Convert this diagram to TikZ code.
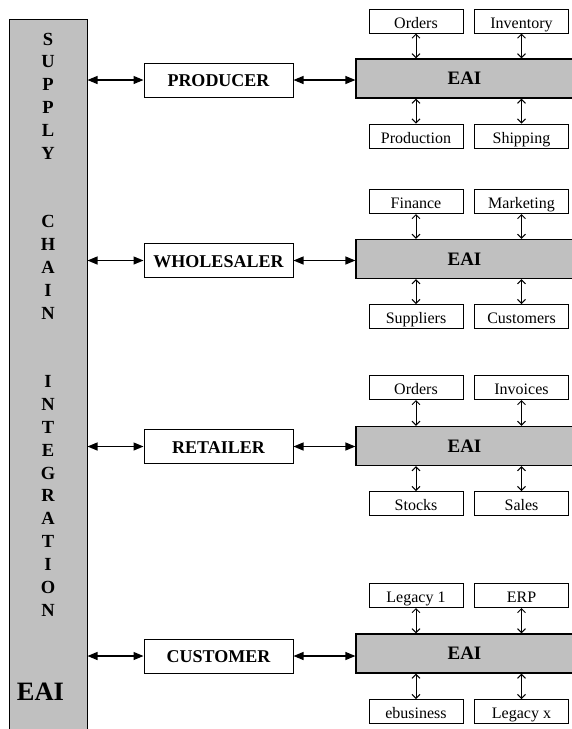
\documentclass[tikz,border=0pt]{standalone}
\usepackage{fontspec}
\setmainfont{Liberation Serif}
\usetikzlibrary{arrows.meta}
\definecolor{eaigray}{RGB}{192,192,192}

\begin{document}
\begin{tikzpicture}
            [
            x=1pt,y=-1pt,
            chain/.style={draw,line width=1pt,fill=eaigray,inner sep=0pt,
                minimum width=78pt,minimum height=720pt},
            letter/.style={inner sep=0pt,font={\fontsize{18.5}{20}\selectfont\bfseries}},
            entity/.style={draw,line width=1pt,inner sep=0pt,minimum width=149pt,
                minimum height=34pt,text height=13pt,text depth=0pt,
                font={\fontsize{18}{20}\selectfont\bfseries}},
            eai/.style={draw,line width=1.2pt,fill=eaigray,inner sep=0pt,
                minimum width=217pt,minimum height=39pt,
                font={\fontsize{19}{21}\selectfont\bfseries}},
            system/.style={draw,line width=1pt,inner sep=0pt,minimum width=94pt,
                minimum height=24pt,text height=14pt,text depth=0pt,
                font={\fontsize{16}{18}\selectfont}},
            link/.style={line width=1.2pt,
                {Triangle[length=10pt,width=8pt]}-{Triangle[length=10pt,width=8pt]}},
            sublink/.style={line width=1pt,
                {Straight Barb[length=4pt,width=8pt]}-{Straight Barb[length=4pt,width=8pt]}},
            ]
            \useasboundingbox (0,0) rectangle (572,729);
            \clip (0,0) rectangle (572,729);

            % Supply chain bar
            \node[chain] (bar) at (48,379) {};
            \foreach \c/\k in {S/0,U/1,P/2,P/3,L/4,Y/5,C/8,H/9,A/10,I/11,N/12,
                I/15,N/16,T/17,E/18,G/19,R/20,A/21,T/22,I/23,O/24,N/25}
                \node[letter] (l\k) at (48,39+22.84*\k) {\c};
            \node[inner sep=0pt,font={\fontsize{26.5}{28}\selectfont\bfseries}] (bareai) at (40.5,692) {EAI};

            % Producer
            \node[entity] (prod) at (218.5,80) {PRODUCER};
            \node[eai] (eai1) at (464.5,78.5) {EAI};
            \node[system] (ord1) at (416,21) {Orders};
            \node[system] (inv1) at (521.5,21) {Inventory};
            \node[system] (prd1) at (416,136) {Production};
            \node[system] (shp1) at (521.5,136) {Shipping};
            \draw[link] (bar.east |- prod.west) -- (prod.west);
            \draw[link] (prod.east) -- (prod.east -| eai1.west);
            \draw[sublink] (ord1.south) -- (ord1.south |- eai1.north);
            \draw[sublink] (inv1.south) -- (inv1.south |- eai1.north);
            \draw[sublink] (prd1.north) -- (prd1.north |- eai1.south);
            \draw[sublink] (shp1.north) -- (shp1.north |- eai1.south);

            % Wholesaler
            \node[entity] (whol) at (218.5,260.5) {WHOLESALER};
            \node[eai] (eai2) at (464.5,259) {EAI};
            \node[system] (fin2) at (416,201.5) {Finance};
            \node[system] (mkt2) at (521.5,201.5) {Marketing};
            \node[system] (sup2) at (416,316.5) {Suppliers};
            \node[system] (cus2) at (521.5,316.5) {Customers};
            \draw[link] (bar.east |- whol.west) -- (whol.west);
            \draw[link] (whol.east) -- (whol.east -| eai2.west);
            \draw[sublink] (fin2.south) -- (fin2.south |- eai2.north);
            \draw[sublink] (mkt2.south) -- (mkt2.south |- eai2.north);
            \draw[sublink] (sup2.north) -- (sup2.north |- eai2.south);
            \draw[sublink] (cus2.north) -- (cus2.north |- eai2.south);

            % Retailer
            \node[entity] (ret) at (218.5,446.5) {RETAILER};
            \node[eai] (eai3) at (464.5,446) {EAI};
            \node[system] (ord3) at (416,387.5) {Orders};
            \node[system] (inv3) at (521.5,387.5) {Invoices};
            \node[system] (stk3) at (416,503.5) {Stocks};
            \node[system] (sal3) at (521.5,503.5) {Sales};
            \draw[link] (bar.east |- ret.west) -- (ret.west);
            \draw[link] (ret.east) -- (ret.east -| eai3.west);
            \draw[sublink] (ord3.south) -- (ord3.south |- eai3.north);
            \draw[sublink] (inv3.south) -- (inv3.south |- eai3.north);
            \draw[sublink] (stk3.north) -- (stk3.north |- eai3.south);
            \draw[sublink] (sal3.north) -- (sal3.north |- eai3.south);

            % Customer
            \node[entity] (cust) at (218.5,656) {CUSTOMER};
            \node[eai] (eai4) at (464.5,653.5) {EAI};
            \node[system] (leg4) at (416,595.5) {Legacy 1};
            \node[system] (erp4) at (521.5,595.5) {ERP};
            \node[system] (ebu4) at (416,711.5) {ebusiness};
            \node[system] (lgx4) at (521.5,711.5) {Legacy x};
            \draw[link] (bar.east |- cust.west) -- (cust.west);
            \draw[link] (cust.east) -- (cust.east -| eai4.west);
            \draw[sublink] (leg4.south) -- (leg4.south |- eai4.north);
            \draw[sublink] (erp4.south) -- (erp4.south |- eai4.north);
            \draw[sublink] (ebu4.north) -- (ebu4.north |- eai4.south);
            \draw[sublink] (lgx4.north) -- (lgx4.north |- eai4.south);
        \end{tikzpicture}
\end{document}
